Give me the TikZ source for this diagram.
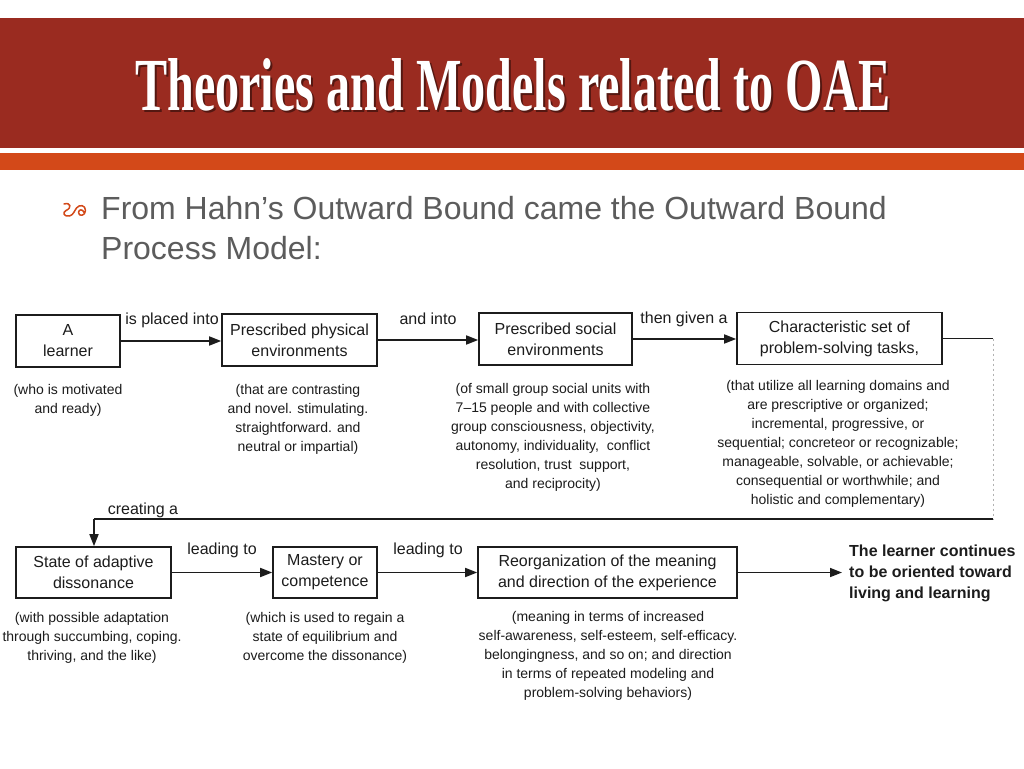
\documentclass[tikz,border=0pt]{standalone}
\usepackage{fontspec}
\setmainfont{Liberation Sans}
\newfontfamily\titlefont{Liberation Serif}
\usetikzlibrary{arrows.meta}
\definecolor{band}{RGB}{154,43,32}
\definecolor{stripe}{RGB}{211,73,25}
\definecolor{bodygray}{RGB}{92,92,92}
\definecolor{ink}{RGB}{28,28,28}
\begin{document}
\begin{tikzpicture}[x=1pt,y=-1pt,
  box/.style={draw=ink, line width=1.6pt, minimum height=52pt, inner sep=0pt,
    align=center, font=\fontsize{16}{21}\selectfont, text=ink},
  lbl/.style={font=\fontsize{16}{19}\selectfont, text=ink, inner sep=0pt},
  sub/.style={font=\fontsize{14}{19}\selectfont, text=ink, align=center,
    inner sep=0pt, anchor=north},
  conn/.style={draw=ink, line width=1.6pt, -{Triangle[length=12pt,width=9pt]}},
  wire/.style={draw=ink, line width=1.6pt},
  faint/.style={draw=gray!60, line width=0.8pt, dash pattern=on 2pt off 3pt}]
\useasboundingbox (0,0) rectangle (1024,768);
\fill[white] (0,0) rectangle (1024,768);
% header bands
\fill[band] (0,18) rectangle (1024,148);
\fill[stripe] (0,153) rectangle (1024,170);
\node[anchor=base west, inner sep=0pt, text=black, opacity=0.45] at (137,112)
  {\resizebox{755pt}{52pt}{\titlefont\bfseries Theories and Models related to OAE}};
\node[anchor=base west, inner sep=0pt, text=white] (title) at (135,110)
  {\resizebox{755pt}{52pt}{\titlefont\bfseries Theories and Models related to OAE}};
% bullet glyph
\begin{scope}[shift={(62,202)}]
  \draw[stripe, line width=1.5pt, line cap=round, line join=round]
    (2,2) .. controls (9,0) and (10,6) .. (4,8.5)
    .. controls (0,10.5) and (2,15) .. (7.5,14)
    .. controls (11.5,13) and (12.5,8.5) .. (14.5,6)
    .. controls (17.5,2) and (23.5,3) .. (23.5,8.5)
    .. controls (23.5,14) and (16.5,15) .. (16.5,10.5)
    .. controls (16.5,7) and (21,7) .. (22,10.5);
\end{scope}
\node[anchor=base west, inner sep=0pt, text=bodygray, font=\fontsize{32}{40}\selectfont] (b1) at (101,219)
  {From Hahn’s Outward Bound came the Outward Bound};
\node[anchor=base west, inner sep=0pt, text=bodygray, font=\fontsize{32}{40}\selectfont] (b2) at (101,259)
  {Process Model:};
% row 1 boxes
\node[box, minimum width=104pt] (A) at (68,341) {A\\learner};
\node[box, minimum width=155pt] (B) at (299.5,340) {Prescribed physical\\environments};
\node[box, minimum width=153pt] (C) at (555.5,339) {Prescribed social\\environments};
\node[box, minimum width=205pt] (D) at (839.5,338.5) {Characteristic set of\\problem-solving tasks,};
% row 2 boxes
\node[box, minimum width=155pt, minimum height=51pt] (E) at (93.5,572.5) {State of adaptive\\dissonance};
\node[box, minimum width=104pt, minimum height=51pt] (F) at (325,572.5) {Mastery or\\competence};
\node[box, minimum width=259pt, minimum height=51pt] (G) at (607.5,572.5) {Reorganization of the meaning\\and direction of the experience};
\node[anchor=west, align=left, inner xsep=7pt, inner ysep=0pt, text=ink,
  font=\fontsize{16}{21}\selectfont\bfseries] (H) at (842,573)
  {The learner continues\\to be oriented toward\\living and learning};
% connector labels
\node[lbl] (l1) at (172,320) {is placed into};
\node[lbl] (l2) at (428,319) {and into};
\node[lbl] (l3) at (684,319) {then given a};
\node[lbl] (l4) at (143,510) {creating a};
\node[lbl] (l5) at (222,550) {leading to};
\node[lbl] (l6) at (428,550) {leading to};
% sub texts
\node[sub] (sA) at (68,384) {(who is motivated\\and ready)};
\node[sub] (sB) at (298,384) {(that are contrasting\\and novel. stimulating.\\straightforward. and\\neutral or impartial)};
\node[sub] (sC) at (553,383) {(of small group social units with\\7--15 people and with collective\\group consciousness, objectivity,\\autonomy, individuality,\ \ conflict\\resolution, trust\ \ support,\\and reciprocity)};
\node[sub] (sD) at (838,380) {(that utilize all learning domains and\\are prescriptive or organized;\\incremental, progressive, or\\sequential; concreteor or recognizable;\\manageable, solvable, or achievable;\\consequential or worthwhile; and\\holistic and complementary)};
\node[sub] (sE) at (92,612) {(with possible adaptation\\through succumbing, coping.\\thriving, and the like)};
\node[sub] (sF) at (325,612) {(which is used to regain a\\state of equilibrium and\\overcome the dissonance)};
\node[sub] (sG) at (608,611) {(meaning in terms of increased\\self-awareness, self-esteem, self-efficacy.\\belongingness, and so on; and direction\\in terms of repeated modeling and\\problem-solving behaviors)};
% connectors
\draw[conn] (A.east) -- (A.east -| B.west);
\draw[conn] (B.east) -- (B.east -| C.west);
\draw[conn] (C.east) -- (C.east -| D.west);
\coordinate (c1) at (993,338.5);
\coordinate (c2) at (993,519);
\coordinate (c3) at (94,519);
\draw[wire] (D.east) -- (c1);
\draw[faint] (c1) -- (c2);
\draw[wire] (c2) -- (c3);
\draw[conn] (c3) -- (c3 |- E.north);
\draw[conn] (E.east) -- (E.east -| F.west);
\draw[conn] (F.east) -- (F.east -| G.west);
\draw[conn] (G.east) -- (G.east -| H.west);
\end{tikzpicture}
\end{document}
